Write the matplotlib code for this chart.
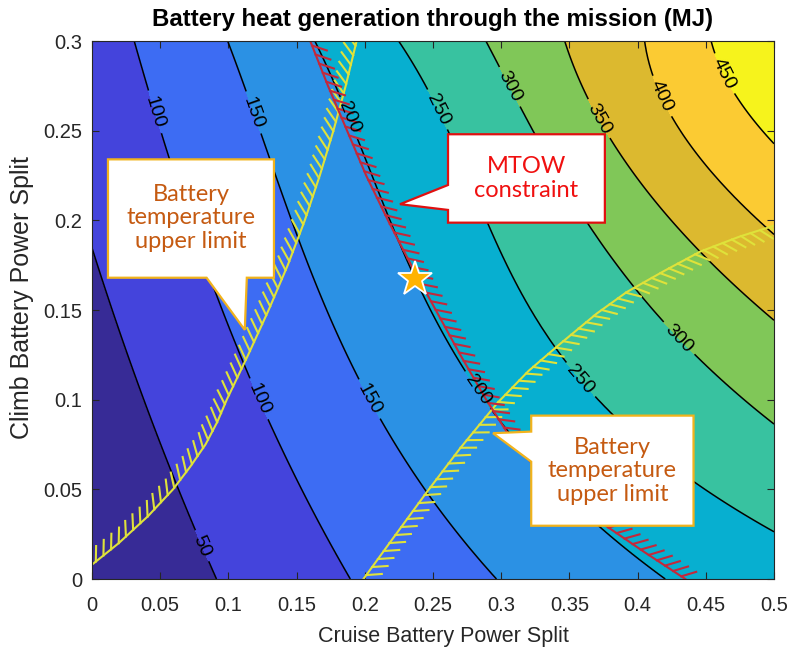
import numpy as np
import matplotlib
matplotlib.use("Agg")
import matplotlib.pyplot as plt
from matplotlib import patheffects
from matplotlib.patches import Polygon

# ---------------------------------------------------------------
# Heat-generation map: x-position where each contour level crosses
# the rows y = 0, 0.05, ..., 0.30 (cruise split vs climb split)
# ---------------------------------------------------------------
levels = [50, 100, 150, 200, 250, 300, 350, 400, 450]
row_y = [0.00, 0.05, 0.10, 0.15, 0.20, 0.25, 0.30]
x_50 = [0.091, 0.064, 0.038, 0.014, -0.006, -0.025, -0.043]
x_100 = [0.189, 0.155, 0.121, 0.096, 0.072, 0.050, 0.031]
x_150 = [0.297, 0.243, 0.203, 0.174, 0.146, 0.122, 0.100]
x_200 = [0.421, 0.342, 0.285, 0.252, 0.220, 0.188, 0.165]
x_250 = [0.570, 0.448, 0.368, 0.326, 0.292, 0.255, 0.227]
x_300 = [0.690, 0.565, 0.482, 0.410, 0.362, 0.323, 0.289]
x_350 = [0.800, 0.680, 0.580, 0.485, 0.425, 0.380, 0.345]
x_400 = [0.910, 0.790, 0.680, 0.560, 0.488, 0.439, 0.402]
x_450 = [1.020, 0.900, 0.780, 0.660, 0.560, 0.497, 0.452]
level_rows = [x_50, x_100, x_150, x_200, x_250, x_300, x_350, x_400, x_450]

# Constraint boundaries
temp_left_y = [0.008, 0.02, 0.035, 0.05, 0.0625, 0.075, 0.0875, 0.10, 0.125, 0.15,
               0.175, 0.20, 0.225, 0.25, 0.275, 0.30]
temp_left_x = [0.000, 0.0196, 0.041, 0.0594, 0.0719, 0.0832, 0.0918, 0.0988, 0.1145, 0.1295,
               0.1435, 0.1560, 0.1670, 0.1770, 0.1860, 0.1940]
temp_right_x = [0.199, 0.220, 0.245, 0.270, 0.297, 0.320, 0.343, 0.370, 0.392, 0.420, 0.446, 0.475, 0.500]
temp_right_y = [0.000, 0.022, 0.048, 0.073, 0.098, 0.116, 0.131, 0.148, 0.160, 0.172, 0.1826, 0.191, 0.197]
mtow_y = [0.300, 0.275, 0.250, 0.225, 0.200, 0.175, 0.150, 0.125, 0.100, 0.075, 0.050, 0.029, 0.015, 0.000]
mtow_x = [0.160, 0.173, 0.187, 0.201, 0.217, 0.234, 0.252, 0.270, 0.289, 0.310, 0.340, 0.378, 0.405, 0.435]

# Selected design point
design_x = [0.2368]
design_y = [0.1673]

x_ticks = [0, 0.05, 0.1, 0.15, 0.2, 0.25, 0.3, 0.35, 0.4, 0.45, 0.5]
x_tick_labels = ["0", "0.05", "0.1", "0.15", "0.2", "0.25", "0.3", "0.35", "0.4", "0.45", "0.5"]
y_ticks = [0, 0.05, 0.1, 0.15, 0.2, 0.25, 0.3]
y_tick_labels = ["0", "0.05", "0.1", "0.15", "0.2", "0.25", "0.3"]

band_colors = ["#372b96", "#4444dc", "#3d6cf3", "#2b91e4", "#07afd0",
               "#38c2a0", "#80c758", "#dcb92f", "#fbcb33", "#f6f31c"]

label_positions = [(0.079, 0.018),
                   (0.044, 0.260), (0.121, 0.100),
                   (0.114, 0.259), (0.205, 0.101),
                   (0.184, 0.256), (0.281, 0.1045),
                   (0.246, 0.259), (0.358, 0.111),
                   (0.3016, 0.2727), (0.424, 0.1296),
                   (0.3724, 0.257), (0.420, 0.270), (0.464, 0.282)]

# ---------------------------------------------------------------
# Build the gridded field from the level crossings
# ---------------------------------------------------------------
xg = np.linspace(0, 0.5, 501)
yg = np.linspace(0, 0.3, 301)
cross = np.array([np.polyval(np.polyfit(row_y, xr, 3), yg) for xr in level_rows])
Z = np.empty((yg.size, xg.size))
ext_levels = [0] + levels + [500]
for j in range(yg.size):
    xs = np.maximum.accumulate(cross[:, j])
    xs = xs + np.arange(xs.size) * 1e-9
    xs_ext = np.concatenate([[xs[0] - (xs[1] - xs[0])], xs, [xs[-1] + (xs[-1] - xs[-2])]])
    Z[j] = np.interp(xg, xs_ext, ext_levels)
X, Y = np.meshgrid(xg, yg)

# ---------------------------------------------------------------
plt.rcParams["font.family"] = ["Liberation Sans", "DejaVu Sans"]
fig = plt.figure(figsize=(7.9, 6.47), dpi=100)
ax = fig.add_axes([0.11646, 0.1051, 0.86329, 0.83153])

ax.contourf(X, Y, Z, levels=[-10] + levels + [510], colors=band_colors)
cs = ax.contour(X, Y, Z, levels=levels, colors="k", linewidths=1.1)
ax.clabel(cs, manual=label_positions, inline=True, fontsize=14, fmt="%d", inline_spacing=6)

tick_yel = "#dfe23a"
ax.plot(temp_left_x, temp_left_y, color=tick_yel, lw=1.5,
        path_effects=[patheffects.withTickedStroke(angle=50, spacing=7, length=1.6)])
ax.plot(temp_right_x, temp_right_y, color=tick_yel, lw=1.5,
        path_effects=[patheffects.withTickedStroke(angle=-50, spacing=7, length=1.6)])
ax.plot(mtow_x, mtow_y, color="#c4283a", lw=1.5,
        path_effects=[patheffects.withTickedStroke(angle=50, spacing=7, length=1.6)])

ax.plot(design_x, design_y, marker="*", ms=26, color="#ffb300", mec="white", mew=1.3,
        linestyle="none", zorder=6)


def bubble(verts, edge):
    ax.add_patch(Polygon(verts, closed=True, facecolor="white", edgecolor=edge,
                         lw=1.6, zorder=7, clip_on=False))


orange_text = "#c55a11"
box_edge = "#f2b31c"
# left temperature callout, tail pointing down to the curve
bubble([(0.0117, 0.234), (0.1334, 0.234), (0.1334, 0.168), (0.1135, 0.168),
        (0.1120, 0.1389), (0.0840, 0.168), (0.0117, 0.168)], box_edge)
ax.text(0.0726, 0.2015, "Battery\ntemperature\nupper limit", ha="center", va="center",
        color=orange_text, fontsize=17, family="Lato", linespacing=1.15, zorder=8)

# MTOW callout, tail pointing left
bubble([(0.261, 0.248), (0.376, 0.248), (0.376, 0.1987), (0.261, 0.1987),
        (0.261, 0.2058), (0.2258, 0.209), (0.261, 0.2197)], "#e01010")
ax.text(0.3185, 0.2234, "MTOW\nconstraint", ha="center", va="center",
        color="#f01010", fontsize=17, family="Lato", linespacing=1.15, zorder=8)

# right temperature callout, tail pointing left
bubble([(0.322, 0.0911), (0.441, 0.0911), (0.441, 0.0297), (0.322, 0.0297),
        (0.322, 0.0654), (0.294, 0.0813), (0.322, 0.0822)], box_edge)
ax.text(0.3815, 0.0604, "Battery\ntemperature\nupper limit", ha="center", va="center",
        color=orange_text, fontsize=17, family="Lato", linespacing=1.15, zorder=8)

ax.set_xlim(0, 0.5)
ax.set_ylim(0, 0.3)
ax.set_xticks(x_ticks)
ax.set_xticklabels(x_tick_labels)
ax.set_yticks(y_ticks)
ax.set_yticklabels(y_tick_labels)
ax.tick_params(direction="in", top=True, right=True, length=5, width=0.8,
               labelsize=14.5, colors="#262626", pad=7)
ax.tick_params(axis="x", pad=12)
for s in ax.spines.values():
    s.set_color("#262626")
    s.set_linewidth(0.8)

ax.set_xlabel("Cruise Battery Power Split", fontsize=15.5, color="#262626")
ax.set_ylabel("Climb Battery Power Split", fontsize=18, color="#262626")
ax.xaxis.set_label_coords(0.516, -0.088)
ax.yaxis.set_label_coords(-0.085, 0.524)
ax.set_title("Battery heat generation through the mission (MJ)", fontsize=17.3,
             fontweight="bold", pad=11)

fig.savefig("out.png", dpi=100)
